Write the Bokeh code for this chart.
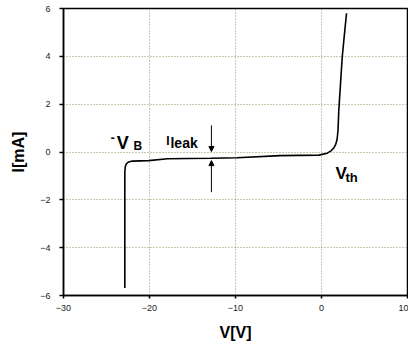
from bokeh.plotting import figure
from bokeh.models import Label, Arrow, NormalHead, FixedTicker, Range1d
from bokeh.embed import file_html
from bokeh.resources import INLINE

# Diode I-V characteristic (voltage in V, current in mA)
voltage = [-22.87, -22.87, -22.82, -22.7, -22.5, -22.0, -20.1, -17.9, -12.9, -9.8,
           -4.8, -0.3, 0.66, 1.15, 1.45, 1.65, 1.8, 1.92, 2.01, 2.21, 2.41, 2.67, 2.91]
current = [-5.69, -0.85, -0.62, -0.5, -0.43, -0.38, -0.36, -0.28, -0.26, -0.24,
           -0.15, -0.13, -0.05, 0.06, 0.18, 0.32, 0.5, 0.9, 1.73, 2.85, 3.96, 4.94, 5.8]

x_ticks = [-30, -20, -10, 0, 10]
y_ticks = [-6, -4, -2, 0, 2, 4, 6]

# leakage-current marker arrows (voltage, from-current, to-current)
leak_v = -12.8
leak_down = (1.11, 0.02)
leak_up = (-1.68, -0.36)

FONT = "Liberation Sans"

p = figure(width=408, height=347, output_backend="svg", toolbar_location=None,
           x_range=Range1d(-30, 10), y_range=Range1d(-6, 6),
           min_border_left=63, min_border_right=1, min_border_top=8,
           min_border_bottom=52)
p.background_fill_color = "white"
p.border_fill_color = "white"
p.outline_line_color = "black"
p.outline_line_width = 1.5

for ax, ticks in ((p.xaxis[0], x_ticks), (p.yaxis[0], y_ticks)):
    ax.ticker = FixedTicker(ticks=ticks)
    ax.minor_tick_line_color = None
    ax.major_tick_in = 0
    ax.major_tick_out = 4
    ax.axis_line_width = 1.5
    ax.axis_line_color = "black"
    ax.major_tick_line_color = "black"
    ax.major_tick_line_width = 1.5
    ax.major_label_text_font = FONT
    ax.major_label_text_font_size = "9px"
    ax.major_label_text_color = "#222222"
    ax.axis_label_text_font = FONT
    ax.axis_label_text_font_style = "bold"
    ax.axis_label_text_font_size = "16px"
    ax.axis_label_text_color = "black"

p.xaxis.axis_label = "V[V]"
p.yaxis.axis_label = "I[mA]"
p.xaxis.major_tick_out = 3
p.xaxis.major_label_standoff = 6
p.xaxis.axis_label_standoff = 10
p.yaxis.major_label_standoff = 9
p.yaxis.axis_label_standoff = 10

for g in (p.xgrid, p.ygrid):
    g.grid_line_color = "#9a9068"
    g.grid_line_alpha = 1.0
    g.grid_line_dash = "1 2"
    g.grid_line_width = 1

p.line(voltage, current, line_color="black", line_width=1.6)

head = dict(size=5, fill_color="black", line_color="black")
p.add_layout(Arrow(x_start=leak_v, y_start=leak_down[0], x_end=leak_v, y_end=leak_down[1],
                   end=NormalHead(**head), line_width=1))
p.add_layout(Arrow(x_start=leak_v, y_start=leak_up[0], x_end=leak_v, y_end=leak_up[1],
                   end=NormalHead(**head), line_width=1))


def label(x, y, text, size):
    p.add_layout(Label(x=x, y=y, text=text, text_font=FONT, text_font_style="bold",
                       text_font_size=size, text_color="black",
                       text_align="left", text_baseline="alphabetic"))


label(-24.5, 0.62, "-", "12px")
label(-23.8, 0.36, "V", "18px")
label(-21.86, 0.27, "B", "12px")
label(-18.06, 0.48, "I", "12px")
label(-17.56, 0.36, "leak", "14px")
label(1.63, -0.90, "V", "17px")
label(2.79, -1.07, "th", "13px")

open("out.html", "w").write(file_html(p, INLINE))
